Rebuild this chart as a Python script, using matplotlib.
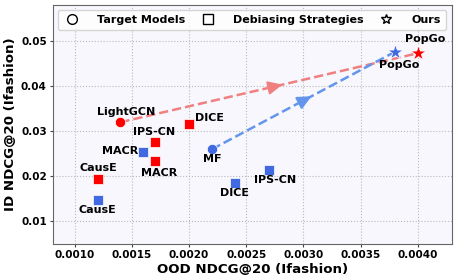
import matplotlib.pyplot as plt
from matplotlib.lines import Line2D

red_names = ['CausE', 'IPS-CN', 'MACR', 'DICE']
red_x = [0.0012, 0.0017, 0.0017, 0.0020]
red_y = [0.0195, 0.0277, 0.0235, 0.0316]

blue_names = ['CausE', 'IPS-CN', 'MACR', 'DICE']
blue_x = [0.0012, 0.0027, 0.0016, 0.0024]
blue_y = [0.0148, 0.0213, 0.0254, 0.0185]

red_base = (0.0014, 0.0320)   # LightGCN
blue_base = (0.0022, 0.0260)  # MF
red_ours = (0.0040, 0.0473)   # PopGo
blue_ours = (0.0038, 0.0476)  # PopGo

fig, ax = plt.subplots(figsize=(4.57, 2.80), dpi=100)
fig.subplots_adjust(left=0.116, right=0.989, top=0.982, bottom=0.129)
ax.set_facecolor('#f7f7fd')
ax.grid(True, linestyle=':', color='#bbbbbb', linewidth=0.8)
ax.set_axisbelow(True)
for s in ax.spines.values():
    s.set_color('#666666')
ax.tick_params(length=2.5, width=0.8, pad=2, color='#444444')

tk = dict(fontsize=7.5, fontweight='bold')

# dashed lines with arrow head a bit past the middle
for base, ours, c in [(red_base, red_ours, '#f08080'), (blue_base, blue_ours, '#6495ed')]:
    ax.plot([base[0], ours[0]], [base[1], ours[1]], '--', color=c, lw=1.8, zorder=2)
    tx = base[0] + (ours[0] - base[0]) * 0.545
    ty = base[1] + (ours[1] - base[1]) * 0.545
    sx = base[0] + (ours[0] - base[0]) * 0.50
    sy = base[1] + (ours[1] - base[1]) * 0.50
    ax.annotate('', xy=(tx, ty), xytext=(sx, sy),
                arrowprops=dict(arrowstyle='-|>,head_length=0.85,head_width=0.4', color=c,
                                lw=1.5, shrinkA=0, shrinkB=0), zorder=3)

ax.scatter(red_x, red_y, marker='s', s=55, color='red', edgecolor='white', lw=0.5, zorder=4)
ax.scatter(blue_x, blue_y, marker='s', s=55, color='royalblue', edgecolor='white', lw=0.5, zorder=4)
ax.scatter([red_base[0]], [red_base[1]], marker='o', s=55, color='red', edgecolor='white', lw=0.5, zorder=4)
ax.scatter([blue_base[0]], [blue_base[1]], marker='o', s=55, color='royalblue', edgecolor='white', lw=0.5, zorder=4)
ax.scatter([red_ours[0]], [red_ours[1]], marker='*', s=130, color='red', edgecolor='white', lw=0.5, zorder=4)
ax.scatter([blue_ours[0]], [blue_ours[1]], marker='*', s=130, color='royalblue', edgecolor='white', lw=0.5, zorder=4)


def label(txt, x, y, dx, dy, ha='center'):
    # dx, dy in pixels (dy positive = up)
    ax.annotate(txt, (x, y), xytext=(dx * 0.72, dy * 0.72), textcoords='offset points',
                ha=ha, va='center', fontsize=8, fontweight='bold', zorder=5)


# red labels
label('CausE', red_x[0], red_y[0], 1, 11)
label('IPS-CN', red_x[1], red_y[1], -1, 10)
label('MACR', red_x[2], red_y[2], 4, -12)
label('DICE', red_x[3], red_y[3], 6, 6, ha='left')
label('LightGCN', red_base[0], red_base[1], 6, 10)
label('PopGo', red_ours[0], red_ours[1], 8, 14)
# blue labels
label('CausE', blue_x[0], blue_y[0], 0, -10)
label('IPS-CN', blue_x[1], blue_y[1], 6, -10)
label('MACR', blue_x[2], blue_y[2], -5, 1, ha='right')
label('DICE', blue_x[3], blue_y[3], 0, -10)
label('MF', blue_base[0], blue_base[1], 0, -10)
label('PopGo', blue_ours[0], blue_ours[1], 4, -13)

ax.set_xlim(0.00081, 0.0043)
ax.set_ylim(0.005, 0.058)
ax.set_xticks([0.0010, 0.0015, 0.0020, 0.0025, 0.0030, 0.0035, 0.0040])
ax.set_xticklabels(['0.0010', '0.0015', '0.0020', '0.0025', '0.0030', '0.0035', '0.0040'], **tk)
ax.set_yticks([0.01, 0.02, 0.03, 0.04, 0.05])
ax.set_yticklabels(['0.01', '0.02', '0.03', '0.04', '0.05'], **tk)
ax.set_xlabel('OOD NDCG@20 (Ifashion)', fontsize=9.6, fontweight='bold', labelpad=2)
ax.set_ylabel('ID NDCG@20 (Ifashion)', fontsize=9.6, fontweight='bold', labelpad=3)

handles = [Line2D([], [], marker='o', ls='', mfc='white', mec='black', ms=7),
           Line2D([], [], marker='s', ls='', mfc='white', mec='black', ms=7),
           Line2D([], [], marker='*', ls='', mfc='white', mec='black', ms=7)]
ax.legend(handles, ['Target Models', 'Debiasing Strategies', 'Ours'], loc='upper left',
          bbox_to_anchor=(0.0125, 0.979, 0.972, 0.0), mode='expand', ncol=3, frameon=True,
          prop=dict(size=8, weight='bold'), handlelength=1.6, handletextpad=1.5,
          borderpad=0.45, borderaxespad=0, fancybox=True)

plt.savefig('out.png', dpi=100)
